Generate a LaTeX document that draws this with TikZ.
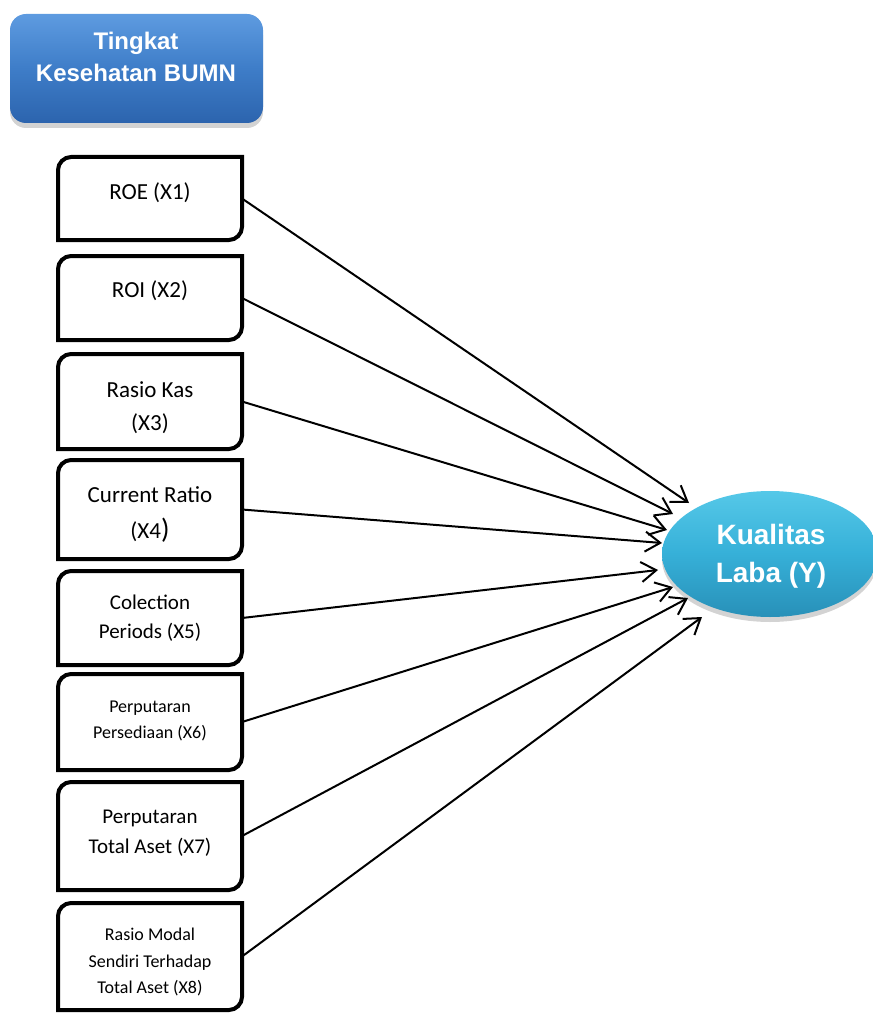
\documentclass[tikz,border=0pt]{standalone}
\usepackage{fontspec}
\setmainfont{Carlito}
\newfontfamily\arialfont{Liberation Sans}
\usetikzlibrary{arrows.meta,shapes.geometric,shadows}
\definecolor{topblueA}{HTML}{5E9BE0}
\definecolor{topblueB}{HTML}{3E7DC8}
\definecolor{topblueC}{HTML}{2C64AE}
\definecolor{cyanA}{HTML}{55C8E8}
\definecolor{cyanB}{HTML}{36B0D8}
\definecolor{cyanC}{HTML}{2890B8}
\newcommand\edgebox[1]{%
  \draw[boxline] (#1.south west) -- ([yshift=-13pt]#1.north west)
    .. controls ([yshift=-6pt]#1.north west) and ([xshift=6pt]#1.north west) .. ([xshift=13pt]#1.north west)
    -- (#1.north east) -- ([yshift=13pt]#1.south east)
    .. controls ([yshift=6pt]#1.south east) and ([xshift=-6pt]#1.south east) .. ([xshift=-13pt]#1.south east) -- cycle;}
\begin{document}
\begin{tikzpicture}[x=1pt,y=-1pt,
  varbox/.style={draw=none, minimum width=184pt, inner sep=0pt, outer sep=0pt},
  boxline/.style={line width=4pt, draw=black},
  lbl/.style={anchor=base, inner sep=0pt, font=\fontsize{#1}{#1}\selectfont},
  wlbl/.style={anchor=base, inner sep=0pt, text=white, font=\arialfont\bfseries\fontsize{#1}{#1}\selectfont},
  link/.style={line width=2pt, -{Straight Barb[length=15pt,width=20pt,line width=2pt]}}
]
\useasboundingbox (0,0) rectangle (872,1016);
% top box
\node[draw=none, rounded corners=16pt, minimum width=253pt, minimum height=109pt,
  top color=topblueA, bottom color=topblueC, middle color=topblueB,
  drop shadow={shadow xshift=0pt, shadow yshift=-5pt, opacity=0.35}] (head) at (136.5,68.5) {};
\node[wlbl=24] (headA) at (136,50) {Tingkat};
\node[wlbl=24] (headB) at (136,82) {Kesehatan BUMN};
% variable boxes
\node[varbox, minimum height=83pt] (x1) at (150,198.5) {};
\node[varbox, minimum height=84pt] (x2) at (150,298) {};
\node[varbox, minimum height=95pt] (x3) at (150,401.5) {};
\node[varbox, minimum height=99pt] (x4) at (150,509.5) {};
\node[varbox, minimum height=94pt] (x5) at (150,618) {};
\node[varbox, minimum height=96pt] (x6) at (150,722) {};
\node[varbox, minimum height=108pt] (x7) at (150,836) {};
\node[varbox, minimum height=107pt] (x8) at (150,956.5) {};
\edgebox{x1}\edgebox{x2}\edgebox{x3}\edgebox{x4}
\edgebox{x5}\edgebox{x6}\edgebox{x7}\edgebox{x8}
\node[lbl=23] (x1a) at (150,200) {ROE (X1)};
\node[lbl=23] (x2a) at (150,297) {ROI (X2)};
\node[lbl=23] (x3a) at (150,397) {Rasio Kas};
\node[lbl=23] (x3b) at (150,430) {(X3)};
\node[lbl=23] (x4a) at (150,502) {Current Ratio};
\node[lbl=23] (x4b) at (150,538) {(X4{\fontsize{28}{28}\selectfont )}};
\node[lbl=21] (x5a) at (150,609) {Colection};
\node[lbl=21] (x5b) at (150,638) {Periods (X5)};
\node[lbl=18] (x6a) at (150,712) {Perputaran};
\node[lbl=18] (x6b) at (150,738) {Persediaan (X6)};
\node[lbl=21] (x7a) at (150,823) {Perputaran};
\node[lbl=21] (x7b) at (150,853) {Total Aset (X7)};
\node[lbl=18] (x8a) at (150,940) {Rasio Modal};
\node[lbl=18] (x8b) at (150,967) {Sendiri Terhadap};
\node[lbl=18] (x8c) at (150,993) {Total Aset (X8)};
% outcome
\node[ellipse, draw=none, minimum width=216pt, minimum height=126pt,
  top color=cyanA, bottom color=cyanC, middle color=cyanB,
  drop shadow={shadow xshift=0pt, shadow yshift=-5pt, opacity=0.35}] (y) at (770,554) {};
\node[wlbl=28] (ya) at (771,544) {Kualitas};
\node[wlbl=28] (yb) at (771,582) {Laba (Y)};
% arrow tips
\coordinate (t1) at (689,503);
\coordinate (t2) at (673,514);
\coordinate (t3) at (667,530);
\coordinate (t4) at (662,543);
\coordinate (t5) at (658,570);
\coordinate (t6) at (673,587);
\coordinate (t7) at (688,598);
\coordinate (t8) at (702,617);
\draw[link] (x1.east) -- (t1);
\draw[link] (x2.east) -- (t2);
\draw[link] (x3.east) -- (t3);
\draw[link] (x4.east) -- (t4);
\draw[link] (x5.east) -- (t5);
\draw[link] (x6.east) -- (t6);
\draw[link] (x7.east) -- (t7);
\draw[link] (x8.east) -- (t8);
\end{tikzpicture}
\end{document}
